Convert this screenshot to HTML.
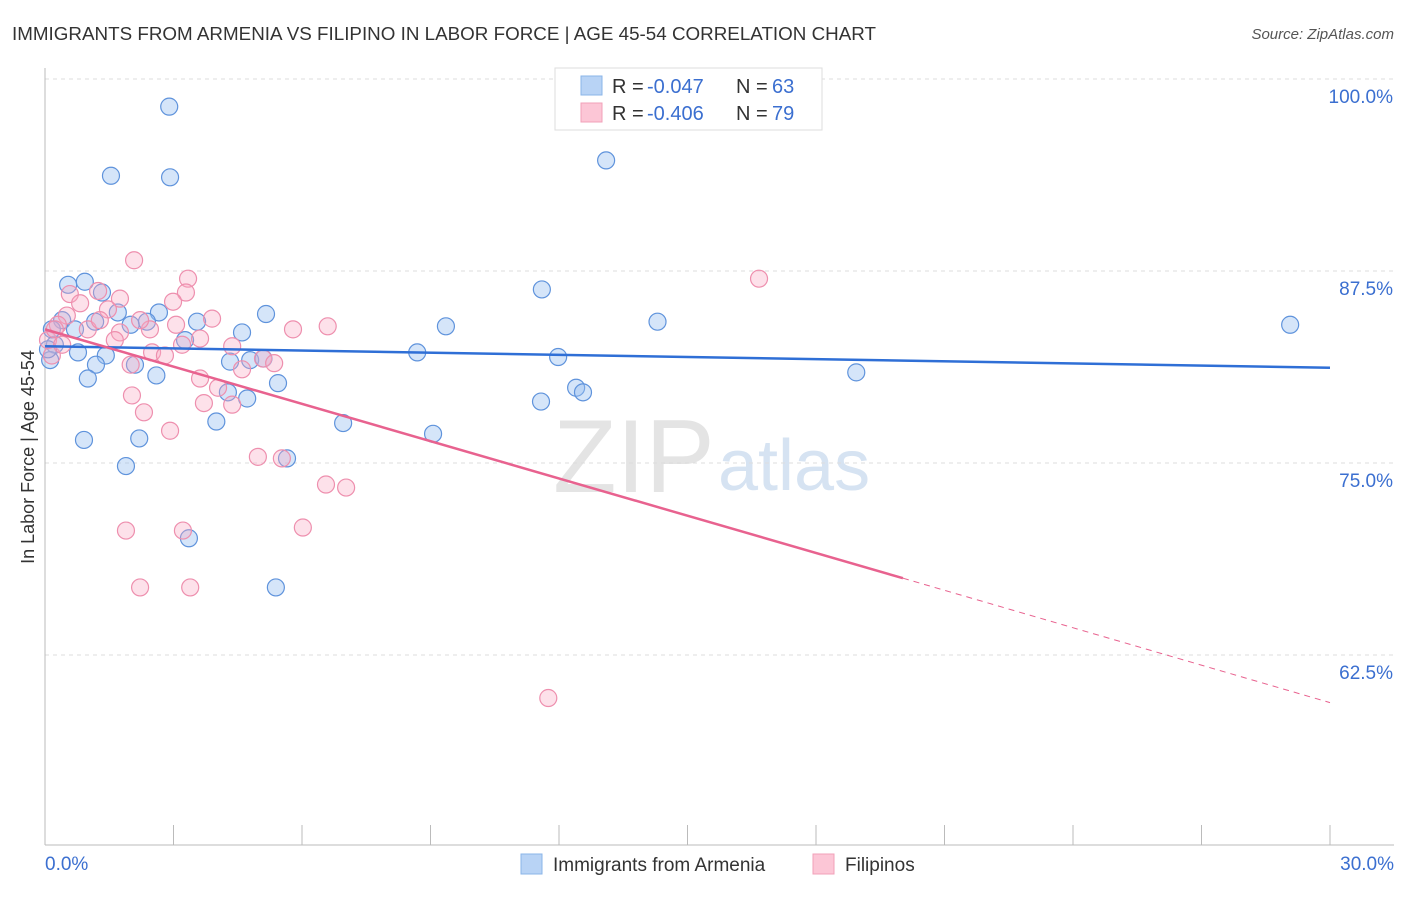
<!DOCTYPE html>
<html><head><meta charset="utf-8">
<style>
body{margin:0;background:#fff;font-family:"Liberation Sans",sans-serif;}
svg text{font-family:"Liberation Sans",sans-serif;}
</style></head>
<body>
<svg id="chart" width="1406" height="892" xmlns="http://www.w3.org/2000/svg">
<text x="12" y="40" font-size="18" fill="#333" textLength="864" lengthAdjust="spacingAndGlyphs">IMMIGRANTS FROM ARMENIA VS FILIPINO IN LABOR FORCE | AGE 45-54 CORRELATION CHART</text>
<text x="1394" y="39" font-size="15" fill="#555" font-style="italic" text-anchor="end">Source: ZipAtlas.com</text>
<text x="553" y="492" font-size="104" fill="#e4e4e4" font-family="Liberation Serif">ZIP</text>
<text x="718" y="490" font-size="72" fill="#d6e3f2">atlas</text>
<g id="grid"></g>
<g id="axes"></g>
<g id="marks"></g>
<text transform="translate(34,457) rotate(-90)" font-size="18" fill="#333" text-anchor="middle">In Labor Force | Age 45-54</text>
<g>
<rect x="555" y="68" width="267" height="62" fill="#fff" stroke="#ddd"/>
<rect x="581" y="76" width="21" height="19" fill="#b8d3f5" stroke="#8ab4e8"/>
<rect x="581" y="103" width="21" height="19" fill="#fcc6d6" stroke="#f2a0b8"/>
<text x="612" y="93" font-size="20" fill="#333">R =</text>
<text x="647" y="93" font-size="20" fill="#3b6fd0">-0.047</text>
<text x="736" y="93" font-size="20" fill="#333">N =</text>
<text x="772" y="93" font-size="20" fill="#3b6fd0">63</text>
<text x="612" y="120" font-size="20" fill="#333">R =</text>
<text x="647" y="120" font-size="20" fill="#3b6fd0">-0.406</text>
<text x="736" y="120" font-size="20" fill="#333">N =</text>
<text x="772" y="120" font-size="20" fill="#3b6fd0">79</text>
</g>
<g>
<rect x="521" y="854" width="21" height="20" fill="#b8d3f5" stroke="#8ab4e8"/>
<text x="553" y="871" font-size="19" fill="#333">Immigrants from Armenia</text>
<rect x="813" y="854" width="21" height="20" fill="#fcc6d6" stroke="#f2a0b8"/>
<text x="845" y="871" font-size="19" fill="#333">Filipinos</text>
</g>
</svg>
<script>
const yTicks=[100,87.5,75,62.5];
const yTickLabels=["100.0%","87.5%","75.0%","62.5%"];
const xTickLabels=["0.0%","30.0%"];
const armX=[2.9,1.54,2.92,13.1,0.54,0.93,1.33,11.6,29.07,5.16,2.66,3.55,2.38,4.6,9.36,14.3,1.7,2.0,1.17,0.4,0.7,0.23,0.12,0.77,1.42,3.27,8.69,11.98,1.19,2.1,4.32,4.79,5.1,2.6,1.0,5.44,18.94,12.4,12.56,11.58,4.27,4.72,4.0,6.96,9.06,0.91,2.2,1.89,5.65,3.36,5.39,0.16,0.07];
const armY=[98.2,93.7,93.6,94.7,86.6,86.8,86.1,86.3,84.0,84.7,84.8,84.2,84.2,83.5,83.9,84.2,84.8,84.0,84.2,84.3,83.7,82.7,81.7,82.2,82.0,83.0,82.2,81.9,81.4,81.4,81.6,81.7,81.8,80.7,80.5,80.2,80.9,79.9,79.6,79.0,79.6,79.2,77.7,77.6,76.9,76.5,76.6,74.8,75.3,70.1,66.9,83.7,82.4];
const filX=[2.08,3.34,16.67,3.29,1.24,1.75,2.99,0.58,0.82,1.47,0.51,3.9,3.06,5.79,6.6,2.45,1.75,1.0,0.3,3.62,4.37,3.2,2.5,2.8,5.09,5.35,4.6,2.0,3.62,4.04,2.03,3.71,4.37,2.31,2.92,4.97,5.53,6.56,7.03,1.89,3.22,6.02,2.22,3.39,11.75,0.07,0.16,0.23,0.4,1.28,1.63,2.22];
const filY=[88.2,87.0,87.0,86.1,86.2,85.7,85.5,86.0,85.4,85.0,84.6,84.4,84.0,83.7,83.9,83.7,83.5,83.7,84.0,83.1,82.6,82.7,82.2,82.0,81.8,81.5,81.1,81.4,80.5,79.9,79.4,78.9,78.8,78.3,77.1,75.4,75.3,73.6,73.4,70.6,70.6,70.8,66.9,66.9,59.7,83.0,82.0,83.7,82.7,84.3,83.0,84.3];
const armTrend=[82.6,81.2];
const filTrend=[83.7,67.5,59.4];
const filSolidEnd=20.03;
const NS="http://www.w3.org/2000/svg";
const X=v=>45+v/30*1285;
const Y=v=>79+(100-v)/12.5*192;
function mk(t,a,p){const e=document.createElementNS(NS,t);for(const k in a)e.setAttribute(k,a[k]);p.appendChild(e);return e;}
const grid=document.getElementById('grid'),axes=document.getElementById('axes'),marks=document.getElementById('marks');
yTicks.forEach((t,i)=>{
 const l=mk('line',{x1:45,x2:1394,y1:Y(t),y2:Y(t),stroke:'#ddd','stroke-dasharray':'4,4'},grid);
 
 
 const tx=mk('text',{x:1393,y:Y(t)+24,'font-size':19,fill:'#3b6fd0','text-anchor':'end'},grid);
 tx.textContent=yTickLabels[i];
 
 
});
mk('line',{x1:45,x2:45,y1:68,y2:845,stroke:'#bbb'},axes);
mk('line',{x1:45,x2:1394,y1:845,y2:845,stroke:'#bbb'},axes);
for(let i=1;i<=10;i++){const t=mk('line',{x1:X(i*3),x2:X(i*3),y1:845,y2:825,stroke:'#bbb'},axes);
 
 }
[[0,'start',45],[30,'end',1394]].forEach((d,i)=>{const t=mk('text',{x:d[2],y:870,'font-size':19,fill:'#3b6fd0','text-anchor':d[1]},axes);t.textContent=xTickLabels[i];
 
 });
armX.forEach((x,i)=>{const c=mk('circle',{cx:X(x),cy:Y(armY[i]),r:8.5,fill:'rgba(150,190,240,0.4)',stroke:'#5f93dc','stroke-width':1.2},marks);
 
 });
filX.forEach((x,i)=>{const c=mk('circle',{cx:X(x),cy:Y(filY[i]),r:8.5,fill:'rgba(248,170,195,0.35)',stroke:'#ee8fae','stroke-width':1.2},marks);
 
 });
const bl=mk('line',{x1:X(0),y1:Y(armTrend[0]),x2:X(30),y2:Y(armTrend[1]),stroke:'#2f6fd6','stroke-width':2.5},marks);


const pl=mk('line',{x1:X(0),y1:Y(filTrend[0]),x2:X(filSolidEnd),y2:Y(filTrend[1]),stroke:'#e8628f','stroke-width':2.5},marks);


const pd=mk('line',{x1:X(filSolidEnd),y1:Y(filTrend[1]),x2:X(30),y2:Y(filTrend[2]),stroke:'#e8628f','stroke-width':1,'stroke-dasharray':'6,5'},marks);


</script>
</body></html>
